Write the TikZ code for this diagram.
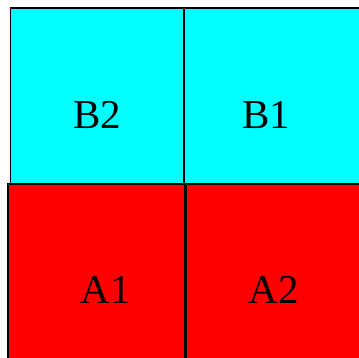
\documentclass[tikz,border=0pt]{standalone}
\usepackage{fontspec}
\setmainfont{Liberation Serif}
\definecolor{cyanfill}{RGB}{0,255,255}
\definecolor{redfill}{RGB}{255,0,0}
\begin{document}
\begin{tikzpicture}[x=1pt,y=1pt,
  cell/.style={draw=black,line width=1.5pt},
  lbl/.style={anchor=base,inner sep=0pt,font=\fontsize{41}{41}\selectfont}]
\useasboundingbox (0,0) rectangle (359,358);
\clip (0,0) rectangle (359,358);
\fill[white] (0,0) rectangle (359,358);
\draw[cell,fill=cyanfill] (10.5,350) rectangle (184,174);
\draw[cell,fill=cyanfill] (184,350) rectangle (362,174);
\draw[cell,fill=redfill] (8,174) rectangle (185,-3);
\draw[cell,fill=redfill] (186.5,174) rectangle (362,-3);
\node[lbl] (b2) at (97.5,229) {B2};
\node[lbl] (b1) at (266,229) {B1};
\node[lbl] (a1) at (106,54) {A1};
\node[lbl] (a2) at (274,54) {A2};
\end{tikzpicture}
\end{document}
